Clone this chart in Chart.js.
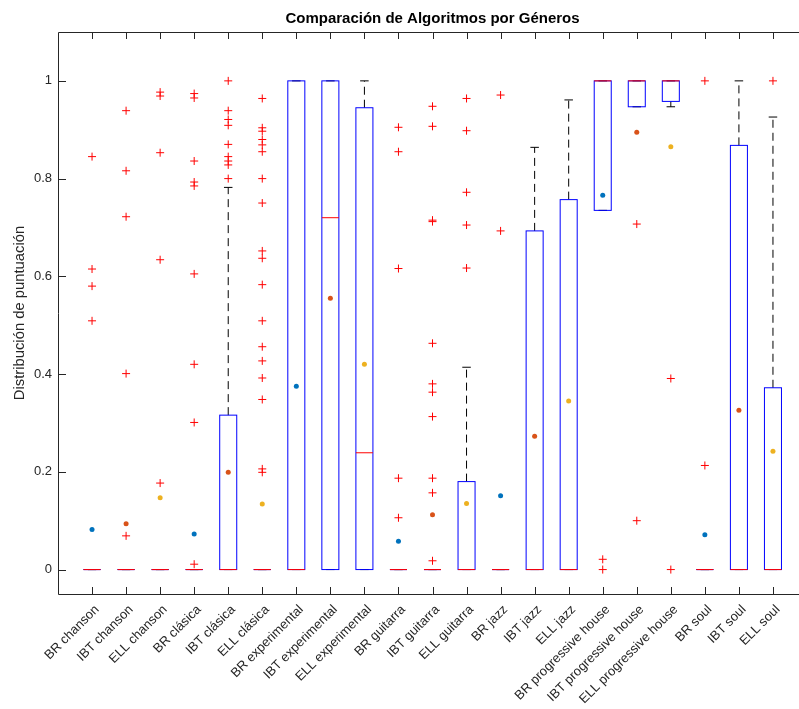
<!DOCTYPE html>
<html lang="es">
<head>
<meta charset="utf-8">
<title>Comparación de Algoritmos por Géneros</title>
<script src="https://cdn.jsdelivr.net/npm/chart.js@4.4.1/dist/chart.umd.min.js"></script>
<style>
  html, body { margin: 0; padding: 0; background: #fff; overflow: hidden; }
  #wrap { position: relative; width: 812px; height: 709px; }
</style>
</head>
<body>
<div id="wrap"><canvas id="boxChart"></canvas></div>
<script>
// categorías (algoritmo + género)
const categories = [
  'BR chanson', 'IBT chanson', 'ELL chanson',
  'BR clásica', 'IBT clásica', 'ELL clásica',
  'BR experimental', 'IBT experimental', 'ELL experimental',
  'BR guitarra', 'IBT guitarra', 'ELL guitarra',
  'BR jazz', 'IBT jazz', 'ELL jazz',
  'BR progressive house', 'IBT progressive house', 'ELL progressive house',
  'BR soul', 'IBT soul', 'ELL soul'
];

// cuartiles, mediana y bigotes de cada caja
const q1 = [0, 0, 0, 0, 0, 0, 0, 0, 0, 0, 0, 0, 0, 0, 0, 0.735, 0.947, 0.958, 0, 0, 0];
const q3 = [0, 0, 0, 0, 0.316, 0, 1, 1, 0.945, 0, 0, 0.180, 0, 0.693, 0.757, 1, 1, 1, 0, 0.868, 0.372];
const medians = [0, 0, 0, 0, 0, 0, 0, 0.720, 0.239, 0, 0, 0, 0, 0, 0, 1, 1, 1, 0, 0, 0];
const whiskerLow = [0, 0, 0, 0, 0, 0, 0, 0, 0, 0, 0, 0, 0, 0, 0, 0.735, 0.947, 0.947, 0, 0, 0];
const whiskerHigh = [0, 0, 0, 0, 0.782, 0, 1, 1, 1, 0, 0, 0.414, 0, 0.864, 0.961, 1, 1, 1, 0, 1, 0.926];

// medias
const means = [0.082, 0.094, 0.147, 0.073, 0.199, 0.134, 0.375, 0.555, 0.420, 0.058, 0.112,
  0.135, 0.151, 0.273, 0.345, 0.766, 0.895, 0.865, 0.071, 0.326, 0.242];

// valores atípicos
const outliers = [
  [0.845, 0.615, 0.580, 0.509],
  [0.939, 0.816, 0.722, 0.401, 0.069],
  [0.977, 0.969, 0.853, 0.634, 0.177],
  [0.974, 0.965, 0.836, 0.793, 0.785, 0.605, 0.420, 0.301, 0.011],
  [1.0, 0.939, 0.921, 0.909, 0.870, 0.845, 0.836, 0.828, 0.800],
  [0.964, 0.904, 0.897, 0.880, 0.869, 0.855, 0.800, 0.750, 0.652, 0.637, 0.583, 0.509,
    0.456, 0.427, 0.392, 0.348, 0.206, 0.199],
  [],
  [],
  [],
  [0.905, 0.855, 0.616, 0.187, 0.106],
  [0.948, 0.907, 0.715, 0.712, 0.463, 0.380, 0.363, 0.313, 0.187, 0.157, 0.018],
  [0.964, 0.898, 0.772, 0.705, 0.617],
  [0.971, 0.693],
  [],
  [],
  [0.021, 0],
  [0.707, 0.100],
  [0.391, 0],
  [1.0, 0.213],
  [],
  [1.0]
];

const yTicks = [0, 0.2, 0.4, 0.6, 0.8, 1];

const meanColors = ['#0072BD', '#D95319', '#EDB120'];
const axisColor = '#262626';
const fontFamily = '"Liberation Sans", Arial, Helvetica, sans-serif';

const outlierPoints = [];
outliers.forEach((vals, i) => vals.forEach(v => outlierPoints.push({x: i + 1, y: v})));
const meanPoints = means.map((v, i) => ({x: i + 1, y: v}));

// dibuja cajas, bigotes, marco y título con las escalas del gráfico
const boxPlugin = {
  id: 'boxPlugin',
  beforeDatasetsDraw(chart) {
    const ctx = chart.ctx;
    const xs = chart.scales.x;
    const ys = chart.scales.y;
    ctx.save();
    categories.forEach((c, i) => {
      const pos = i + 1;
      const xc = xs.getPixelForValue(pos);
      const xl = xs.getPixelForValue(pos - 0.25);
      const xr = xs.getPixelForValue(pos + 0.25);
      const cl = xs.getPixelForValue(pos - 0.125);
      const cr = xs.getPixelForValue(pos + 0.125);

      // bigotes
      ctx.strokeStyle = '#000';
      ctx.lineWidth = 1;
      ctx.setLineDash([8, 5]);
      ctx.beginPath();
      ctx.moveTo(xc, ys.getPixelForValue(q3[i]));
      ctx.lineTo(xc, ys.getPixelForValue(whiskerHigh[i]));
      ctx.moveTo(xc, ys.getPixelForValue(q1[i]));
      ctx.lineTo(xc, ys.getPixelForValue(whiskerLow[i]));
      ctx.stroke();
      ctx.setLineDash([]);
      ctx.beginPath();
      ctx.moveTo(cl, ys.getPixelForValue(whiskerHigh[i]));
      ctx.lineTo(cr, ys.getPixelForValue(whiskerHigh[i]));
      ctx.moveTo(cl, ys.getPixelForValue(whiskerLow[i]));
      ctx.lineTo(cr, ys.getPixelForValue(whiskerLow[i]));
      ctx.stroke();

      // caja
      ctx.strokeStyle = '#0000FF';
      const yt = ys.getPixelForValue(q3[i]);
      const yb = ys.getPixelForValue(q1[i]);
      ctx.strokeRect(xl, yt, xr - xl, yb - yt);

      // mediana
      ctx.strokeStyle = '#FF0000';
      ctx.beginPath();
      ctx.moveTo(xl, ys.getPixelForValue(medians[i]));
      ctx.lineTo(xr, ys.getPixelForValue(medians[i]));
      ctx.stroke();
    });
    ctx.restore();
  },
  afterDraw(chart) {
    const ctx = chart.ctx;
    const a = chart.chartArea;
    const xs = chart.scales.x;
    const ys = chart.scales.y;
    const tick = 7;
    ctx.save();
    ctx.strokeStyle = axisColor;
    ctx.lineWidth = 1;
    ctx.beginPath();
    ctx.moveTo(a.right, a.top + 0.5);
    ctx.lineTo(a.left + 0.5, a.top + 0.5);
    ctx.lineTo(a.left + 0.5, a.bottom + 0.5);
    ctx.lineTo(a.right, a.bottom + 0.5);
    categories.forEach((c, i) => {
      const x = Math.round(xs.getPixelForValue(i + 1)) + 0.5;
      ctx.moveTo(x, a.bottom);
      ctx.lineTo(x, a.bottom - tick);
      ctx.moveTo(x, a.top);
      ctx.lineTo(x, a.top + tick);
    });
    yTicks.forEach(v => {
      const y = Math.round(ys.getPixelForValue(v)) + 0.5;
      ctx.moveTo(a.left, y);
      ctx.lineTo(a.left + tick + 1, y);
    });
    ctx.stroke();

    // título
    ctx.fillStyle = '#000';
    ctx.font = 'bold 15px ' + fontFamily;
    ctx.textAlign = 'center';
    ctx.textBaseline = 'middle';
    ctx.fillText('Comparación de Algoritmos por Géneros', (a.left + a.right) / 2, 19);
    ctx.restore();
  }
};

const ctx = document.getElementById('boxChart').getContext('2d');
const chart = new Chart(ctx, {
  type: 'scatter',
  data: {
    datasets: [
      {
        label: 'atípicos',
        data: outlierPoints,
        pointStyle: 'cross',
        pointRadius: 4,
        borderColor: '#FF0000',
        borderWidth: 1
      },
      {
        label: 'media',
        data: meanPoints,
        pointStyle: 'circle',
        pointRadius: 2.5,
        borderWidth: 0,
        backgroundColor: means.map((v, i) => meanColors[i % 3])
      }
    ]
  },
  options: {
    responsive: true,
    maintainAspectRatio: false,
    animation: false,
    layout: { padding: { top: 32, left: 0, right: 2, bottom: 0 } },
    plugins: {
      legend: { display: false },
      tooltip: { enabled: false }
    },
    scales: {
      x: {
        type: 'linear',
        min: 0,
        max: 22,
        grid: { display: false, drawTicks: false },
        border: { display: false },
        afterBuildTicks: (scale) => { scale.ticks = categories.map((c, i) => ({ value: i + 1 })); },
        afterFit: (scale) => { scale.height = 115; scale.paddingLeft = 0; scale.paddingRight = 0; },
        ticks: {
          autoSkip: false,
          maxRotation: 45,
          minRotation: 45,
          padding: 8,
          labelOffset: 5,
          color: axisColor,
          font: { family: fontFamily, size: 13 },
          callback: (v) => categories[v - 1]
        }
      },
      y: {
        min: -0.05,
        max: 1.1,
        grid: { display: false, drawTicks: false },
        border: { display: false },
        afterBuildTicks: (scale) => { scale.ticks = yTicks.map(v => ({ value: v })); },
        afterFit: (scale) => { scale.width = 58; scale.paddingTop = 0; scale.paddingBottom = 0; },
        ticks: {
          padding: 6,
          color: axisColor,
          font: { family: fontFamily, size: 13 },
          callback: (v) => String(v)
        },
        title: {
          display: true,
          text: 'Distribución de puntuación',
          color: axisColor,
          font: { family: fontFamily, size: 14.8 },
          padding: { top: 11, bottom: 0 }
        }
      }
    }
  },
  plugins: [boxPlugin]
});
</script>
</body>
</html>
